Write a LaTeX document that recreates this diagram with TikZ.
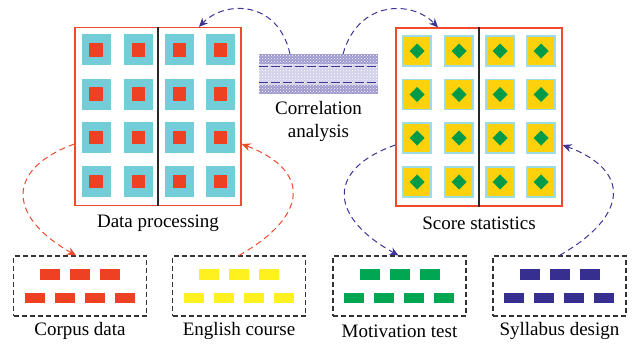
\documentclass[tikz,border=0pt]{standalone}
\usepackage{fontspec}
\setmainfont{Liberation Serif}
\usetikzlibrary{arrows.meta,patterns}
\definecolor{boxred}{HTML}{EF4A2E}
\definecolor{cyanc}{HTML}{73CDD9}
\definecolor{redsq}{HTML}{EE4123}
\definecolor{yel}{HTML}{FDD10C}
\definecolor{grn}{HTML}{009B48}
\definecolor{yelbar}{HTML}{FFF01F}
\definecolor{grnbar}{HTML}{00A651}
\definecolor{blubar}{HTML}{362F8F}
\definecolor{arrblue}{HTML}{3C3596}
\definecolor{lavdark}{HTML}{9E9AD0}
\definecolor{lavlight}{HTML}{D2D0EA}
\begin{document}
\begin{tikzpicture}[x=1pt,y=-1pt,
  bigbox/.style={draw=boxred,line width=1.2pt,minimum width=166pt,minimum height=178pt,inner sep=0pt},
  smallbox/.style={draw=black!80,dash pattern=on 5pt off 3pt,line width=1.1pt,minimum width=133pt,minimum height=60pt,inner sep=0pt},
  lbl/.style={font=\fontsize{19}{23}\selectfont,inner sep=0pt,align=center},
  redarrow/.style={draw=boxred,line width=1pt,dash pattern=on 6pt off 4pt,-{Stealth[length=9pt,width=8pt,inset=3pt]}},
  bluearrow/.style={draw=arrblue,line width=1pt,dash pattern=on 6pt off 4pt,-{Stealth[length=9pt,width=8pt,inset=3pt]}},
]
\useasboundingbox (0,0) rectangle (637,345);
% big boxes
\node[bigbox] (L) at (158,116.5) {};
\node[bigbox] (R) at (479,117) {};
% cells left
\foreach \x in {96,138.5,179.5,220.5}{
  \foreach \y in {50,94,137.5,181.5}{
    \fill[cyanc] (\x-14.5,\y-15.5) rectangle (\x+14.5,\y+15.5);
    \fill[redsq] (\x-6.7,\y-6.7) rectangle (\x+6.7,\y+6.7);
  }}
\draw[black!85,line width=1.2pt] (L.north) -- (L.south);
% cells right
\foreach \x in {417,459,500,541}{
  \foreach \y in {51,94.5,138,182}{
    \filldraw[fill=yel,draw=cyanc!70,line width=1.3pt] (\x-14,\y-15) rectangle (\x+14,\y+15);
    \fill[grn] (\x,\y-7.5) -- (\x+7.5,\y) -- (\x,\y+7.5) -- (\x-7.5,\y) -- cycle;
  }}
\draw[black!85,line width=1.2pt] (R.north) -- (R.south);
% correlation pattern
\node[inner sep=0pt,minimum width=119pt,minimum height=40pt] (corr) at (318.5,74.3) {};
\fill[lavdark] (259,54.3) rectangle (378,64.5);
\fill[lavlight] (259,64.5) rectangle (378,84.5);
\fill[lavdark] (259,84.5) rectangle (378,94.3);
\fill[pattern=crosshatch dots,pattern color=white] (259,54.3) rectangle (378,94.3);
\draw[arrblue,line width=1.4pt,dash pattern=on 9pt off 3pt] (259,66.7) -- (378,66.7);
\draw[arrblue,line width=1.4pt,dash pattern=on 9pt off 3pt] (259,82.3) -- (378,82.3);
\node[lbl] (corrtxt) at (318.5,121) {Correlation\\analysis};
% labels
\node[lbl] (dp) at (158,223) {Data processing};
\node[lbl] (ss) at (479,223) {Score statistics};
% small boxes
\node[smallbox] (B1) at (80,286) {};
\node[smallbox] (B2) at (239,286) {};
\node[smallbox] (B3) at (399.5,286) {};
\node[smallbox] (B4) at (559.5,286) {};
\foreach \bx/\bc in {80/redsq,239/yelbar,399.5/grnbar,559.5/blubar}{
  \foreach \o in {-30,0,30}{
    \fill[fill=\bc] (\bx+\o-10,269) rectangle (\bx+\o+10,279.5);}
  \foreach \o in {-45.5,-15.5,14.5,44.5}{
    \fill[fill=\bc] (\bx+\o-10,292.7) rectangle (\bx+\o+10,303.3);}
}
\node[lbl] (t1) at (80,331) {Corpus data};
\node[lbl] (t2) at (239,331) {English course};
\node[lbl] (t3) at (399.5,331) {Motivation test};
\node[lbl] (t4) at (559.5,331) {Syllabus design};
% arrows
\draw[redarrow] ([yshift=-27.5pt]L.west) .. controls (8,168) and (5,215) .. ([xshift=-4pt]B1.north);
\draw[redarrow] (B2.north) .. controls (310,215) and (310,170) .. ([yshift=-27.5pt]L.east);
\draw[bluearrow] ([xshift=-28.5pt]corr.north) .. controls (278,0) and (225,0) .. ([xshift=41pt]L.north);
\draw[bluearrow] ([xshift=24.5pt]corr.north) .. controls (358,0) and (412,0) .. ([xshift=-41pt]R.north);
\draw[bluearrow] ([yshift=-28pt]R.west) .. controls (329,168) and (326,215) .. ([xshift=-1pt]B3.north);
\draw[bluearrow] (B4.north) .. controls (630,215) and (630,170) .. ([yshift=-28pt]R.east);
\end{tikzpicture}
\end{document}
